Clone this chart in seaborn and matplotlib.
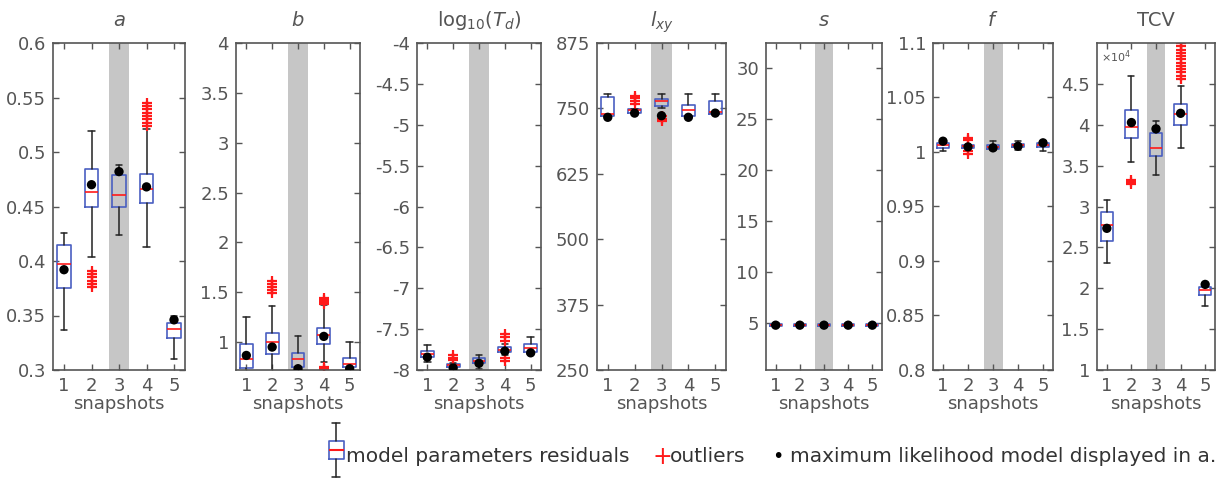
import seaborn as sns
import matplotlib.pyplot as plt
import numpy as np

# x positions of the snapshots
snapshots = [1, 2, 3, 4, 5]

# --- a ---
a_q1 = [0.375, 0.450, 0.450, 0.453, 0.329]
a_med = [0.397, 0.463, 0.461, 0.466, 0.338]
a_q3 = [0.415, 0.484, 0.479, 0.480, 0.343]
a_lo = [0.337, 0.404, 0.424, 0.413, 0.310]
a_hi = [0.426, 0.519, 0.488, 0.521, 0.350]
a_ml = [0.392, 0.470, 0.482, 0.468, 0.346]
a_out = [[], [0.376, 0.379, 0.382, 0.385, 0.388, 0.391], [],
         [0.524, 0.527, 0.530, 0.533, 0.536, 0.539, 0.542, 0.545], []]

# --- b ---
b_q1 = [0.74, 0.876, 0.75, 0.983, 0.75]
b_med = [0.833, 1.00, 0.826, 1.07, 0.78]
b_q3 = [0.983, 1.09, 0.89, 1.144, 0.84]
b_lo = [0.70, 0.70, 0.70, 0.80, 0.70]
b_hi = [1.25, 1.36, 1.057, 1.37, 1.00]
b_ml = [0.866, 0.95, 0.733, 1.057, 0.733]
b_out = [[], [1.49, 1.52, 1.55, 1.58, 1.61], [],
         [0.73, 0.75, 1.38, 1.40, 1.42, 1.44], []]

# --- log10(Td) ---
c_q1 = [-7.843, -7.967, -7.918, -7.78, -7.78]
c_med = [-7.80, -7.94, -7.885, -7.75, -7.73]
c_q3 = [-7.773, -7.926, -7.856, -7.72, -7.687]
c_lo = [-7.905, -7.99, -7.99, -7.82, -7.80]
c_hi = [-7.70, -7.913, -7.82, -7.68, -7.60]
c_ml = [-7.843, -7.975, -7.918, -7.77, -7.79]
c_out = [[], [-7.82, -7.85, -7.88], [], [-7.56, -7.60, -7.64, -7.85, -7.89], []]

# --- lxy ---
d_q1 = [735, 741, 755, 736, 739]
d_med = [739, 747, 764, 746, 744]
d_q3 = [771, 749, 768, 757, 765]
d_lo = [735, 741, 751, 736, 739]
d_hi = [778, 749, 777, 777, 777]
d_ml = [733, 741, 736, 733, 741]
d_out = [[], [758, 765, 770, 773], [725, 730, 735], [], []]

# --- s ---
e_q1 = [4.7, 4.7, 4.7, 4.7, 4.7]
e_med = [4.8, 4.8, 4.8, 4.8, 4.8]
e_q3 = [4.9, 4.9, 4.9, 4.9, 4.9]
e_lo = [4.6, 4.6, 4.6, 4.6, 4.6]
e_hi = [5.0, 5.0, 5.0, 5.0, 5.0]
e_ml = [4.8, 4.8, 4.8, 4.8, 4.8]
e_out = [[], [], [], [], []]

# --- f ---
f_q1 = [1.0038, 1.0038, 1.003, 1.0044, 1.0044]
f_med = [1.006, 1.0053, 1.0047, 1.006, 1.006]
f_q3 = [1.0084, 1.006, 1.006, 1.0075, 1.0078]
f_lo = [1.0007, 1.0038, 1.002, 1.0016, 1.0007]
f_hi = [1.0114, 1.006, 1.010, 1.0099, 1.0099]
f_ml = [1.0099, 1.0047, 1.0038, 1.0053, 1.0084]
f_out = [[], [0.998, 1.0007, 1.011, 1.013], [], [], []]

# --- TCV (x 1e4) ---
g_q1 = [2.582, 3.843, 3.618, 3.998, 1.916]
g_med = [2.774, 3.978, 3.72, 4.128, 1.978]
g_q3 = [2.937, 4.18, 3.896, 4.25, 2.01]
g_lo = [2.312, 3.55, 3.386, 3.72, 1.786]
g_hi = [3.08, 4.598, 4.04, 4.475, 2.067]
g_ml = [2.733, 4.027, 3.95, 4.14, 2.047]
g_out = [[], [3.27, 3.30, 3.33], [],
         [4.56, 4.60, 4.64, 4.68, 4.72, 4.76, 4.80, 4.84, 4.88, 4.92, 4.96, 5.0], []]

titles = ['$\\it{a}$', '$\\it{b}$', 'log$_{10}$($\\it{T_d}$)', '$\\it{l_{xy}}$',
          '$\\it{s}$', '$\\it{f}$', 'TCV']
ylims = [(0.3, 0.6), (0.72, 4), (-8, -4), (250, 875), (0.4, 32.5), (0.8, 1.1), (1, 5)]
yticks = [np.arange(0.3, 0.61, 0.05), np.arange(1, 4.01, 0.5), np.arange(-8, -3.99, 0.5),
          np.arange(250, 876, 125), np.arange(5, 31, 5), np.arange(0.8, 1.101, 0.05),
          np.arange(1, 4.51, 0.5)]
ylabels = [['0.3', '0.35', '0.4', '0.45', '0.5', '0.55', '0.6'],
           ['1', '1.5', '2', '2.5', '3', '3.5', '4'],
           ['-8', '-7.5', '-7', '-6.5', '-6', '-5.5', '-5', '-4.5', '-4'],
           ['250', '375', '500', '625', '750', '875'],
           ['5', '10', '15', '20', '25', '30'],
           ['0.8', '0.85', '0.9', '0.95', '1', '1.05', '1.1'],
           ['1', '1.5', '2', '2.5', '3', '3.5', '4', '4.5']]

panels = [
    (a_q1, a_med, a_q3, a_lo, a_hi, a_ml, a_out),
    (b_q1, b_med, b_q3, b_lo, b_hi, b_ml, b_out),
    (c_q1, c_med, c_q3, c_lo, c_hi, c_ml, c_out),
    (d_q1, d_med, d_q3, d_lo, d_hi, d_ml, d_out),
    (e_q1, e_med, e_q3, e_lo, e_hi, e_ml, e_out),
    (f_q1, f_med, f_q3, f_lo, f_hi, f_ml, f_out),
    (g_q1, g_med, g_q3, g_lo, g_hi, g_ml, g_out),
]

sns.set_theme(style='ticks')
plt.rcParams['font.family'] = ['DejaVu Sans']
plt.rcParams['mathtext.fontset'] = 'dejavusans'

grey = '#555555'
blue = '#4a5fc1'
red = '#ff1a1a'

W, H = 1229, 482
lefts = [53, 236, 417, 597, 766, 933, 1097]
rights = [185, 360, 541, 726, 882, 1053, 1215]
top, bot = 43, 370

fig = plt.figure(figsize=(W / 100, H / 100), dpi=100)

for i, (q1, med, q3, lo, hi, ml, out) in enumerate(panels):
    ax = fig.add_axes([lefts[i] / W, 1 - bot / H, (rights[i] - lefts[i]) / W, (bot - top) / H])
    ax.axvspan(2.62, 3.38, color='#c6c6c6', lw=0, zorder=0)
    stats = []
    for k in range(5):
        stats.append(dict(q1=q1[k], med=med[k], q3=q3[k], whislo=lo[k], whishi=hi[k],
                          fliers=out[k]))
    ax.bxp(stats, positions=snapshots, widths=0.5, showfliers=True,
           boxprops=dict(color=blue, lw=1.2),
           medianprops=dict(color=red, lw=1.2),
           whiskerprops=dict(color='#222222', lw=1.1),
           capprops=dict(color='#222222', lw=1.1),
           flierprops=dict(marker='+', markeredgecolor=red, markersize=7, mew=1.6),
           manage_ticks=False, zorder=2)
    sns.scatterplot(x=snapshots, y=ml, color='black', s=45, ax=ax, zorder=4,
                    edgecolor='none')
    ax.set_xlim(0.6, 5.4)
    ax.set_ylim(*ylims[i])
    ax.set_yticks(yticks[i])
    ax.set_yticklabels(ylabels[i])
    ax.set_xticks(snapshots)
    ax.set_xticklabels([str(s) for s in snapshots])
    ax.tick_params(direction='in', top=True, right=True, length=4, width=1,
                   colors=grey, labelsize=13, labelcolor=grey, pad=5)
    for sp in ax.spines.values():
        sp.set_color(grey)
        sp.set_linewidth(1.2)
    ax.set_xlabel('snapshots', fontsize=13, color=grey, labelpad=0)
    ax.set_ylabel('')
    ax.set_title(titles[i], fontsize=14, color=grey, pad=12)
    ax.set_facecolor('white')
    if i == 6:
        ax.text(0.03, 0.985, '$\\times10^4$', transform=ax.transAxes, va='top',
                ha='left', fontsize=8, color=grey)

# legend row
iax = fig.add_axes([326 / W, 4 / H, 20 / W, 56 / H])
iax.bxp([dict(q1=0.33, med=0.5, q3=0.67, whislo=0.0, whishi=1.0, fliers=[])],
        positions=[0], widths=0.75, showfliers=False,
        boxprops=dict(color=blue, lw=1.2), medianprops=dict(color=red, lw=1.5),
        whiskerprops=dict(color='#222222', lw=1.1), capprops=dict(color='#222222', lw=1.1),
        manage_ticks=False)
iax.set_xlim(-0.5, 0.5)
iax.set_ylim(-0.02, 1.02)
iax.axis('off')

fs = 14.5
fig.text(346 / W, 1 - 457 / H, 'model parameters residuals', fontsize=fs, color='#333333',
         va='center', ha='left')
fig.text(662 / W, 1 - 457 / H, '+', fontsize=17, color=red, va='center', ha='center')
fig.text(670 / W, 1 - 457 / H, 'outliers', fontsize=fs, color='#333333', va='center', ha='left')
fig.text(778 / W, 1 - 457 / H, '\u2022', fontsize=14, color='black', va='center', ha='center')
fig.text(790 / W, 1 - 457 / H, 'maximum likelihood model displayed in a.', fontsize=fs,
         color='#333333', va='center', ha='left')

plt.savefig('out.png', dpi=100, facecolor='white')
